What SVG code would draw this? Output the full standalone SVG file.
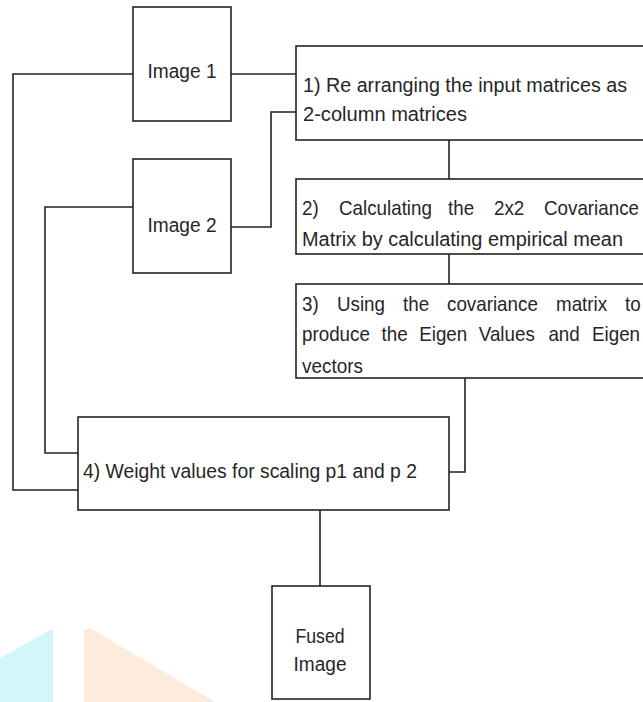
<svg xmlns="http://www.w3.org/2000/svg" width="643" height="702" viewBox="0 0 643 702">
<style>
.box{fill:#fff;stroke:#222;stroke-width:1.6}
.conn{fill:none;stroke:#222;stroke-width:1.6}
text{font-family:"Liberation Sans",Arial,sans-serif;font-size:20px;fill:#262626}
.c{text-anchor:middle}
</style>
<rect width="643" height="702" fill="#fff"/>
<g id="watermark">
<polygon points="0,658 50,630 53,630 53,702 0,702" fill="#c9f6fb" opacity="0.85"/>
<polygon points="84,630 90,628 215,702 84,702" fill="#fde9d8" opacity="0.85"/>
</g>
<g id="connectors">
<path class="conn" d="M231,74 H296"/>
<path class="conn" d="M133,74 H13 V490 H78"/>
<path class="conn" d="M231,227 H271 V112 H296"/>
<path class="conn" d="M133,207 H45 V453 H78"/>
<path class="conn" d="M449,140 V179"/>
<path class="conn" d="M449,254 V284"/>
<path class="conn" d="M465,378 V472 H449"/>
<path class="conn" d="M320,510 V586"/>
</g>
<g id="image1">
<rect class="box" x="133" y="7" width="98" height="114"/>
<text class="c" x="182" y="78" textLength="69" lengthAdjust="spacingAndGlyphs">Image 1</text>
</g>
<g id="image2">
<rect class="box" x="133" y="159" width="98" height="114"/>
<text class="c" x="182" y="232" textLength="69" lengthAdjust="spacingAndGlyphs">Image 2</text>
</g>
<g id="step1">
<rect class="box" x="296" y="46" width="400" height="94"/>
<text x="303" y="92" textLength="324" lengthAdjust="spacingAndGlyphs">1) Re arranging the input matrices as</text>
<text x="303" y="121" textLength="164" lengthAdjust="spacingAndGlyphs">2-column matrices</text>
</g>
<g id="step2">
<rect class="box" x="296" y="179" width="400" height="75"/>
<text y="215" transform="scale(0.94 1)"><tspan x="321.28">2)</tspan> <tspan x="360.64">Calculating</tspan> <tspan x="476.6">the</tspan> <tspan x="525.53">2x2</tspan> <tspan x="578.72">Covariance</tspan></text>
<text x="302" y="246" textLength="321" lengthAdjust="spacingAndGlyphs">Matrix by calculating empirical mean</text>
</g>
<g id="step3">
<rect class="box" x="296" y="284" width="400" height="94"/>
<text y="311" transform="scale(0.94 1)"><tspan x="321.28">3)</tspan> <tspan x="358.51">Using</tspan> <tspan x="428.72">the</tspan> <tspan x="475.53">covariance</tspan> <tspan x="591.49">matrix</tspan> <tspan x="664.89">to</tspan></text>
<text y="341" transform="scale(0.94 1)"><tspan x="321.28">produce</tspan> <tspan x="405.96">the</tspan> <tspan x="445.96">Eigen</tspan> <tspan x="509.36">Values</tspan> <tspan x="583.4">and</tspan> <tspan x="629.79">Eigen</tspan></text>
<text x="302" y="373" textLength="61" lengthAdjust="spacingAndGlyphs">vectors</text>
</g>
<g id="step4">
<rect class="box" x="78" y="417" width="371" height="93"/>
<text x="83" y="478" textLength="334" lengthAdjust="spacingAndGlyphs">4) Weight values for scaling p1 and p 2</text>
</g>
<g id="fused">
<rect class="box" x="272" y="586" width="98" height="113"/>
<text class="c" x="320" y="643" textLength="49" lengthAdjust="spacingAndGlyphs">Fused</text>
<text class="c" x="320" y="671" textLength="53" lengthAdjust="spacingAndGlyphs">Image</text>
</g>
</svg>
